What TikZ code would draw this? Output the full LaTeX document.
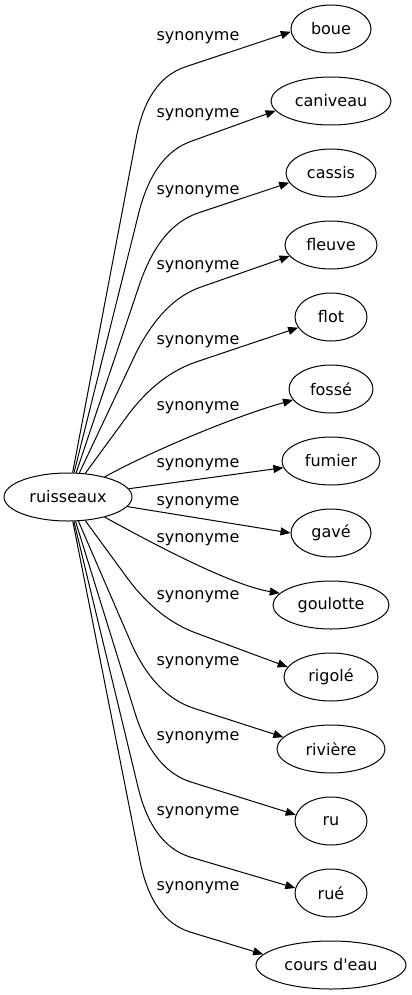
\documentclass[tikz,border=0pt]{standalone}
\usepackage{fontspec}
\setmainfont{DejaVu Sans}
\usetikzlibrary{shapes.geometric,arrows.meta,calc}
\begin{document}
\begin{tikzpicture}[x=0.75pt,y=-0.75pt,
  every node/.style={font=\fontsize{12pt}{14pt}\selectfont},
  word/.style={draw,ellipse,line width=0.75pt,minimum height=36pt,inner sep=0pt},
  lab/.style={inner sep=0pt},
  syn/.style={line width=0.75pt,-{Triangle[length=7.5pt,width=6pt]}},
  bend/.style n args={3}{insert path={.. controls ($(#1)!0.67!(#2)$) and ($(#3)!0.67!(#2)$) .. (#3)}}]
\useasboundingbox (0,0) rectangle (411,995);
\node[word,minimum width=96pt] (r) at (68,497) {ruisseaux};
\node[word,minimum width=60pt] (boue) at (331,29) {boue};
\node[word,minimum width=90pt] (caniveau) at (331,101) {caniveau};
\node[word,minimum width=67.5pt] (cassis) at (331,173) {cassis};
\node[word,minimum width=69pt] (fleuve) at (331,245) {fleuve};
\node[word,minimum width=54pt] (flot) at (331,317) {flot};
\node[word,minimum width=63pt] (fosse) at (331,389) {fossé};
\node[word,minimum width=73.5pt] (fumier) at (331,461) {fumier};
\node[word,minimum width=60pt] (gave) at (331,533) {gavé};
\node[word,minimum width=87pt] (goulotte) at (331,605) {goulotte};
\node[word,minimum width=70.5pt] (rigole) at (331,677) {rigolé};
\node[word,minimum width=81pt] (riviere) at (331,749) {rivière};
\node[word,minimum width=54pt] (ru) at (331,821) {ru};
\node[word,minimum width=54pt] (rue) at (331,893) {rué};
\node[word,minimum width=112.5pt] (cours) at (331,965) {cours d\textquotesingle eau};
% labels
\foreach \n/\y in {l1/38,l2/115,l3/192,l4/267,l5/342,l6/408,l7/465,l8/503,l9/540,l10/597,l11/663,l12/738,l13/813,l14/888}
  \node[lab] (\n) at (198,\y) {synonyme};
% bend points: P1 (before), K (corner), P2 (after)
\foreach \i/\ax/\ay/\kx/\ky/\bx/\by in {
  1/136/139/147/80/185/67,
  2/139/212/154/154/192/141,
  3/140/283/160/226/198/213,
  4/136/353/163/300/201/287,
  5/128/415/158/375/196/362,
  10/128/579/158/619/196/633,
  11/132/645/155/695/193/708,
  12/135/713/153/770/191/782,
  13/138/787/152/845/190/857,
  14/140/861/152/920/190/932}{
  \coordinate (a\i) at (\ax,\ay);
  \coordinate (k\i) at (\kx,\ky);
  \coordinate (b\i) at (\bx,\by);
}
% edges
\draw[syn] (r) -- (a1) [bend={a1}{k1}{b1}] -- (boue.184);
\draw[syn] (r) -- (a2) [bend={a2}{k2}{b2}] -- (caniveau.190);
\draw[syn] (r) -- (a3) [bend={a3}{k3}{b3}] -- (cassis.193);
\draw[syn] (r) -- (a4) [bend={a4}{k4}{b4}] -- (fleuve.195);
\draw[syn] (r) -- (a5) [bend={a5}{k5}{b5}] -- (flot.198);
\draw[syn] (r) .. controls (150,452) and (230,418) .. (fosse.196);
\draw[syn] (r) -- (fumier.188);
\draw[syn] (r) -- (gave.180);
\draw[syn] (r) .. controls (150,542) and (230,585) .. (goulotte.167);
\draw[syn] (r) -- (a10) [bend={a10}{k10}{b10}] -- (rigole.167);
\draw[syn] (r) -- (a11) [bend={a11}{k11}{b11}] -- (riviere.166);
\draw[syn] (r) -- (a12) [bend={a12}{k12}{b12}] -- (ru.170);
\draw[syn] (r) -- (a13) [bend={a13}{k13}{b13}] -- (rue.172);
\draw[syn] (r) -- (a14) [bend={a14}{k14}{b14}] -- (cours.171);
\end{tikzpicture}
\end{document}
